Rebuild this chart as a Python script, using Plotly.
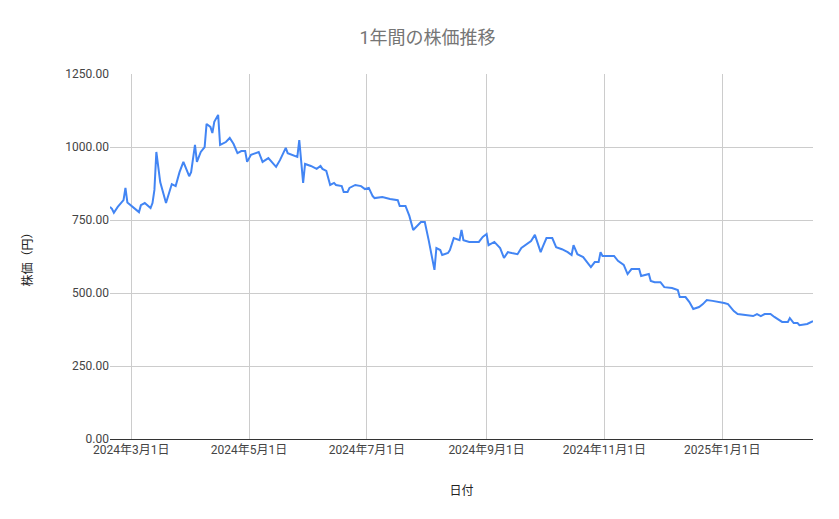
import plotly.graph_objects as go

dates = ["2024-02-19","2024-02-20","2024-02-21","2024-02-23","2024-02-26","2024-02-27","2024-02-28","2024-03-02","2024-03-05","2024-03-06","2024-03-08","2024-03-11","2024-03-12","2024-03-13","2024-03-14","2024-03-16","2024-03-19","2024-03-22","2024-03-24","2024-03-26","2024-03-28","2024-03-31","2024-04-01","2024-04-03","2024-04-04","2024-04-06","2024-04-08","2024-04-09","2024-04-11","2024-04-12","2024-04-13","2024-04-15","2024-04-16","2024-04-19","2024-04-21","2024-04-23","2024-04-25","2024-04-27","2024-04-29","2024-04-30","2024-05-02","2024-05-06","2024-05-08","2024-05-11","2024-05-15","2024-05-17","2024-05-20","2024-05-21","2024-05-23","2024-05-26","2024-05-27","2024-05-29","2024-05-30","2024-06-02","2024-06-05","2024-06-07","2024-06-08","2024-06-10","2024-06-12","2024-06-14","2024-06-15","2024-06-17","2024-06-18","2024-06-19","2024-06-21","2024-06-22","2024-06-25","2024-06-28","2024-06-30","2024-07-02","2024-07-04","2024-07-05","2024-07-09","2024-07-13","2024-07-17","2024-07-18","2024-07-21","2024-07-23","2024-07-25","2024-07-29","2024-07-31","2024-08-02","2024-08-05","2024-08-06","2024-08-08","2024-08-09","2024-08-12","2024-08-13","2024-08-15","2024-08-18","2024-08-19","2024-08-20","2024-08-23","2024-08-28","2024-08-30","2024-09-01","2024-09-02","2024-09-05","2024-09-08","2024-09-10","2024-09-12","2024-09-14","2024-09-17","2024-09-19","2024-09-22","2024-09-24","2024-09-26","2024-09-29","2024-09-30","2024-10-02","2024-10-05","2024-10-07","2024-10-10","2024-10-13","2024-10-15","2024-10-16","2024-10-18","2024-10-21","2024-10-23","2024-10-25","2024-10-27","2024-10-29","2024-10-30","2024-10-31","2024-11-02","2024-11-06","2024-11-08","2024-11-11","2024-11-13","2024-11-15","2024-11-19","2024-11-20","2024-11-24","2024-11-25","2024-11-27","2024-11-30","2024-12-02","2024-12-06","2024-12-09","2024-12-10","2024-12-13","2024-12-15","2024-12-17","2024-12-20","2024-12-22","2024-12-24","2024-12-27","2024-12-31","2025-01-02","2025-01-04","2025-01-07","2025-01-09","2025-01-13","2025-01-17","2025-01-19","2025-01-21","2025-01-23","2025-01-26","2025-01-28","2025-01-30","2025-02-01","2025-02-04","2025-02-05","2025-02-07","2025-02-09","2025-02-10","2025-02-14","2025-02-17"]
prices = [795,788,775,795,818,860,810,795,777,801,808,791,808,853,983,880,808,873,866,914,949,900,914,1007,949,983,1000,1079,1069,1048,1086,1110,1007,1017,1031,1010,979,986,986,949,973,983,949,962,932,955,997,979,973,966,1024,877,942,935,925,935,925,918,870,877,870,866,866,846,846,860,870,866,856,860,832,825,829,822,818,798,798,764,716,743,743,681,579,654,647,630,637,647,688,681,716,681,675,675,692,702,664,675,654,620,640,637,633,654,668,678,699,640,657,688,688,657,650,640,630,664,633,623,606,589,606,606,640,627,627,627,610,596,565,582,582,558,565,541,537,537,520,517,510,486,486,469,445,452,462,476,473,469,466,462,438,428,425,421,428,421,428,428,418,408,401,401,414,397,397,390,394,404]

tick_vals = ["2024-03-01","2024-05-01","2024-07-01","2024-09-01","2024-11-01","2025-01-01"]
tick_text = ["2024年3月1日","2024年5月1日","2024年7月1日","2024年9月1日","2024年11月1日","2025年1月1日"]

fig = go.Figure(go.Scatter(x=dates, y=prices, mode="lines",
                           line=dict(color="#4285F4", width=2)))
fig.update_layout(
    width=839, height=519, plot_bgcolor="white", paper_bgcolor="white",
    font=dict(family="Roboto, Noto Sans CJK JP", color="#444", size=12),
    title=dict(text="1年間の株価推移", x=0.5, xanchor="center", y=0.955,
               font=dict(size=18, color="#757575")),
    margin=dict(l=102, r=34, t=66, b=88, autoexpand=False), showlegend=False,
    xaxis=dict(range=["2024-02-19","2025-02-17"], tickvals=tick_vals, ticktext=tick_text,
               showgrid=True, gridcolor="#cccccc", linecolor="#333", showline=True,
               automargin=False,
               title=dict(text="日付", font=dict(size=12, color="#222"), standoff=30),
               tickfont=dict(color="#444")),
    yaxis=dict(range=[0,1250], dtick=250, tickformat=".2f", gridcolor="#cccccc",
               zeroline=False, automargin=False,
               title=dict(text="株価（円）", font=dict(size=12, color="#222"), standoff=30),
               tickfont=dict(color="#444")),
)
fig.write_html("out.html")
